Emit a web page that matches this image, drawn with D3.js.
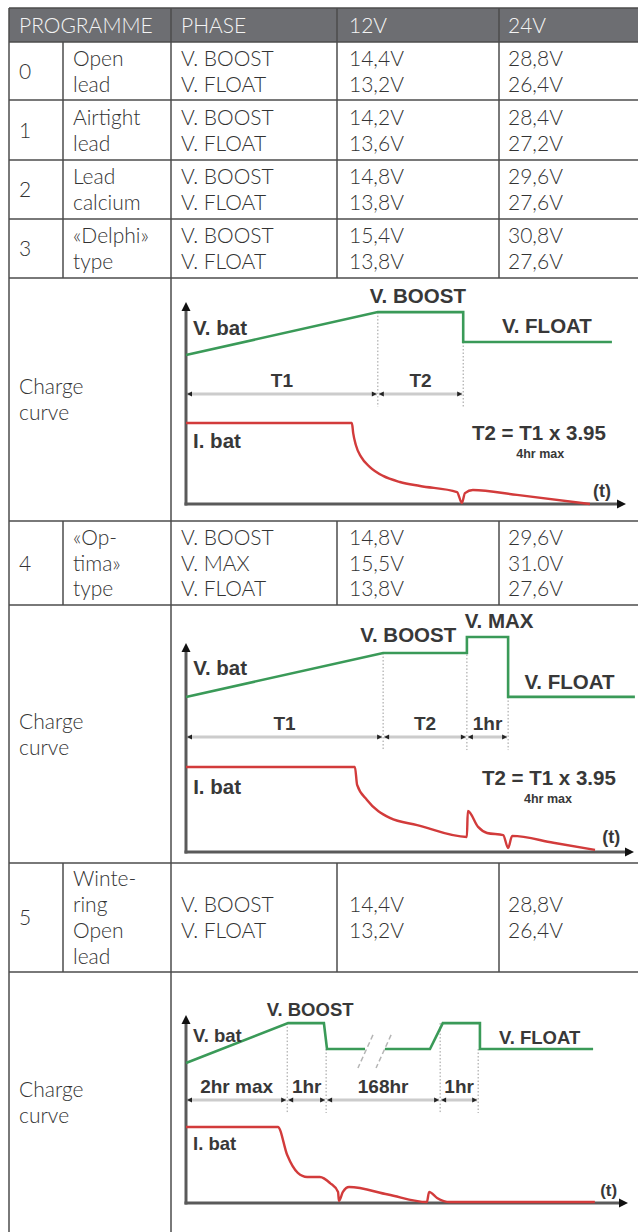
<!DOCTYPE html>
<meta charset="utf-8">
<style>
  body { margin: 0; background: #fff; }
  text.cell { font-family: Lato, "Noto Sans", sans-serif; font-weight: 300; font-size: 21px; fill: #333; }
  text.head { fill: #f4f4f4; }
  text.lab { font-family: "Liberation Sans", Arial, sans-serif; font-weight: bold; fill: #383838; }
</style>
<body>
<div id="chart"></div>
<script src="https://cdn.jsdelivr.net/npm/d3@7/dist/d3.min.js"></script>
<script>
// ---- table content ----
var headers = ["PROGRAMME", "PHASE", "12V", "24V"];
var progNums = ["0", "1", "2", "3", "4", "5"];
var progNames = [["Open", "lead"], ["Airtight", "lead"], ["Lead", "calcium"], ["«Delphi»", "type"],
  ["«Op-", "tima»", "type"], ["Winte-", "ring", "Open", "lead"]];
var phases = [["V. BOOST", "V. FLOAT"], ["V. BOOST", "V. FLOAT"], ["V. BOOST", "V. FLOAT"], ["V. BOOST", "V. FLOAT"],
  ["V. BOOST", "V. MAX", "V. FLOAT"], ["V. BOOST", "V. FLOAT"]];
var volts12 = [["14,4V", "13,2V"], ["14,2V", "13,6V"], ["14,8V", "13,8V"], ["15,4V", "13,8V"],
  ["14,8V", "15,5V", "13,8V"], ["14,4V", "13,2V"]];
var volts24 = [["28,8V", "26,4V"], ["28,4V", "27,2V"], ["29,6V", "27,6V"], ["30,8V", "27,6V"],
  ["29,6V", "31.0V", "27,6V"], ["28,8V", "26,4V"]];
var curveLabel = ["Charge", "curve"];

// ---- charge curves (time 0-100, level 0-100) ----
var c1Vbat = [[[0, 73.8], [43.6, 95], [63, 95], [63, 80.2], [96.8, 80.2]]];
var c1Ibat = [[0, 40.1], [37.7, 40.1], [38.0, 35.1], [38.6, 29.2], [39.8, 23.3], [41.8, 18.3], [44.8, 13.9],
  [48.6, 10.9], [53.2, 8.9], [61.6, 5.9], [62.7, 0.5], [63.4, 5.4], [65.2, 6.9], [75.2, 4.5], [91.8, 0]];
var c1Dims = [0, 43.6, 63];
var c1DimLabels = ["T1", "T2"];
var c1DotTops = [95, 80.2];

var c2Vbat = [[[0, 74.2], [44, 95.2], [62.7, 95.2], [62.7, 102.9], [71.9, 102.9], [71.9, 74.2], [100.2, 74.2]]];
var c2Ibat = [[0, 40.7], [37.7, 40.7], [38.2, 32.1], [40.4, 24.9], [45.5, 16.3], [51.6, 12.9], [62.7, 7.2],
  [62.9, 19.6], [65.2, 12.0], [67.2, 9.1], [70.8, 8.1], [71.9, 1.9], [72.8, 7.7], [82.0, 4.4], [91.3, 1.0]];
var c2Dims = [0, 44, 62.7, 71.9];
var c2DimLabels = ["T1", "T2", "1hr"];
var c2DotTops = [95.2, 102.9, 74.2];

var c3Vbat = [[[0, 74.5], [23.1, 95.7], [31.2, 95.7], [31.9, 81.9], [40.5, 81.9]],
  [[45.0, 81.9], [55.2, 81.9], [58.1, 95.7], [66.5, 95.7], [66.5, 81.9], [92.1, 81.9]]];
var c3Ibat = [[0, 40.4], [20.8, 40.4], [22.9, 25.5], [25.3, 16.0], [27.4, 13.8], [30.3, 13.8], [32.6, 10.6],
  [34.4, 5.9], [34.6, 1.1], [35.5, 5.9], [36.9, 8.5], [45.7, 4.5], [54.5, 0.5], [55.0, 5.9], [56.8, 2.7],
  [59.7, 0.5], [92.5, 0.5]];
var c3Dims = [0, 22.9, 31.7, 57.5, 66.1];
var c3DimLabels = ["2hr max", "1hr", "168hr", "1hr"];
var c3DotTops = [95.7, 81.9, 95.7, 81.9];
var c3Breaks = [[[42.3, 89.4], [38.9, 71.8]], [[46.4, 89.4], [43.0, 71.8]]];

// ---- layout ----
var W = 638, H = 1232;
var colX = [9, 63, 171, 337, 499, 638];
var rowY = [8, 42, 100, 160, 219, 278, 521, 605, 863, 972, 1232];
var rowKind = ["head", 0, 1, 2, 3, "c0", 4, "c1", 5, "c2"];
var lineGap = 25.8;
var textX = [19, 73, 181, 349, 508];
var border = "#4d4d4d";

var svg = d3.select("#chart").append("svg")
  .attr("width", W).attr("height", H);

// header background
svg.append("rect").attr("x", colX[0]).attr("y", rowY[0])
  .attr("width", W - colX[0]).attr("height", rowY[1] - rowY[0]).attr("fill", "#6d6e72");

function lines(g, arr, x, cy) {
  arr.forEach(function (s, k) {
    g.append("text").attr("class", "cell")
      .attr("x", x)
      .attr("y", cy + (k - (arr.length - 1) / 2) * lineGap + 7.6)
      .text(s);
  });
}

var grid = svg.append("g").attr("stroke", border).attr("stroke-width", 1.5).attr("fill", "none");
var txt = svg.append("g");

rowKind.forEach(function (kind, r) {
  var y0 = rowY[r], y1 = rowY[r + 1], cy = (y0 + y1) / 2;
  grid.append("line").attr("x1", colX[0]).attr("x2", W).attr("y1", y0).attr("y2", y0);
  var vcols;
  if (kind === "head") {
    vcols = [2, 3, 4];
    headers.forEach(function (h, k) {
      txt.append("text").attr("class", "cell head")
        .attr("x", [textX[0], textX[2], textX[3], textX[4]][k]).attr("y", cy + 7.6).text(h);
    });
  } else if (typeof kind === "number") {
    vcols = [1, 2, 3, 4];
    lines(txt, [progNums[kind]], textX[0], cy);
    lines(txt, progNames[kind], textX[1], cy);
    lines(txt, phases[kind], textX[2], cy);
    lines(txt, volts12[kind], textX[3], cy);
    lines(txt, volts24[kind], textX[4], cy);
  } else {
    vcols = [2];
    lines(txt, curveLabel, textX[0], cy);
  }
  vcols.forEach(function (c) {
    grid.append("line").attr("x1", colX[c]).attr("x2", colX[c]).attr("y1", y0).attr("y2", y1);
  });
});
grid.append("line").attr("x1", colX[0]).attr("x2", colX[0]).attr("y1", rowY[0]).attr("y2", H);

// ---- curve drawing ----
var charts = [
  { xr: [186, 626], yr: [504, 302], v: c1Vbat, i: c1Ibat, dims: c1Dims, dimLabels: c1DimLabels, dots: c1DotTops,
    dimV: 54.5, fs: 20.5,
    labels: [
      { t: "V. BOOST", x: 52.7, y: 99.5, a: "middle" },
      { t: "V. bat", x: 1.6, y: 83.7, a: "start" },
      { t: "V. FLOAT", x: 71.8, y: 84.7, a: "start" },
      { t: "I. bat", x: 1.6, y: 27.7, a: "start" },
      { t: "T2 = T1 x 3.95", x: 65, y: 31.7, a: "start" },
      { t: "4hr max", x: 80.5, y: 22.8, a: "middle", s: 12.5, f: "#555" },
      { t: "(t)", x: 92.5, y: 3.5, a: "start", s: 18 }
    ] },
  { xr: [186, 634], yr: [852, 643], v: c2Vbat, i: c2Ibat, dims: c2Dims, dimLabels: c2DimLabels, dots: c2DotTops,
    dimV: 55.0, fs: 20.5,
    labels: [
      { t: "V. BOOST", x: 49.6, y: 100.5, a: "middle" },
      { t: "V. MAX", x: 69.9, y: 107.2, a: "middle" },
      { t: "V. bat", x: 1.6, y: 84.7, a: "start" },
      { t: "V. FLOAT", x: 85.6, y: 78.0, a: "middle" },
      { t: "I. bat", x: 1.6, y: 27.8, a: "start" },
      { t: "T2 = T1 x 3.95", x: 81.0, y: 32.1, a: "middle" },
      { t: "4hr max", x: 80.8, y: 23.4, a: "middle", s: 12.5, f: "#555" },
      { t: "(t)", x: 92.9, y: 4.3, a: "start", s: 18 }
    ] },
  { xr: [186, 628], yr: [1203, 1015], v: c3Vbat, i: c3Ibat, dims: c3Dims, dimLabels: c3DimLabels, dots: c3DotTops,
    dimV: 54.8, fs: 18.5, breaks: c3Breaks,
    labels: [
      { t: "V. BOOST", x: 28.1, y: 99.5, a: "middle" },
      { t: "V. bat", x: 1.6, y: 85.6, a: "start" },
      { t: "V. FLOAT", x: 80.0, y: 84.6, a: "middle" },
      { t: "I. bat", x: 1.6, y: 28.2, a: "start" },
      { t: "(t)", x: 93.7, y: 3.7, a: "start", s: 17 }
    ] }
];

charts.forEach(function (c) {
  var x = d3.scaleLinear().domain([0, 100]).range(c.xr);
  var y = d3.scaleLinear().domain([0, 100]).range(c.yr);
  var line = d3.line().x(function (d) { return x(d[0]); }).y(function (d) { return y(d[1]); });
  var smooth = d3.line().curve(d3.curveMonotoneX)
    .x(function (d) { return x(d[0]); }).y(function (d) { return y(d[1]); });
  var g = svg.append("g");
  var dy = y(c.dimV);
  var dotBottom = dy + 13;

  // dotted guides
  c.dims.slice(1).forEach(function (t, k) {
    g.append("line").attr("x1", x(t)).attr("x2", x(t)).attr("y1", y(c.dots[k])).attr("y2", dotBottom)
      .attr("stroke", "#9a9a9a").attr("stroke-width", 1).attr("stroke-dasharray", "1.5,2");
  });

  // dimension line with arrowheads
  for (var k = 0; k < c.dims.length - 1; k++) {
    var a = x(c.dims[k]), b = x(c.dims[k + 1]);
    g.append("line").attr("x1", a + 1).attr("x2", b - 1).attr("y1", dy).attr("y2", dy)
      .attr("stroke", "#cccccc").attr("stroke-width", 3);
    g.append("path").attr("d", "M" + (a + 1) + "," + dy + "l5,-2.5v5z").attr("fill", "#222");
    g.append("path").attr("d", "M" + (b - 1) + "," + dy + "l-5,-2.5v5z").attr("fill", "#222");
    g.append("text").attr("class", "lab").attr("font-size", 19).attr("text-anchor", "middle")
      .attr("x", (a + b) / 2).attr("y", dy - 7).text(c.dimLabels[k]);
  }

  // break marks
  (c.breaks || []).forEach(function (br) {
    g.append("path").attr("d", line(br)).attr("stroke", "#b5b5b5").attr("stroke-width", 1.5)
      .attr("stroke-dasharray", "5,3").attr("fill", "none");
  });

  // axes
  var x0 = x(0), y0 = y(0);
  g.append("line").attr("x1", x0).attr("x2", x0).attr("y1", y0 + 1.5).attr("y2", y(100) + 6)
    .attr("stroke", "#5a5a5a").attr("stroke-width", 3);
  g.append("line").attr("x1", x0 - 1.5).attr("x2", x(100) - 6).attr("y1", y0).attr("y2", y0)
    .attr("stroke", "#5a5a5a").attr("stroke-width", 3);
  g.append("path").attr("d", "M" + x0 + "," + y(100) + "l4.5,9h-9z").attr("fill", "#111");
  g.append("path").attr("d", "M" + x(100) + "," + y0 + "l-9,-4.5v9z").attr("fill", "#111");

  // V. bat and I. bat
  c.v.forEach(function (seg) {
    g.append("path").attr("d", line(seg)).attr("fill", "none")
      .attr("stroke", "#3a9a58").attr("stroke-width", 2.6).attr("stroke-linejoin", "miter");
  });
  g.append("path").attr("d", smooth(c.i)).attr("fill", "none")
    .attr("stroke", "#d23b3b").attr("stroke-width", 2.4);

  // labels
  c.labels.forEach(function (l) {
    g.append("text").attr("class", "lab").attr("font-size", l.s || c.fs)
      .attr("fill", l.f || null)
      .attr("text-anchor", l.a).attr("x", x(l.x)).attr("y", y(l.y)).text(l.t);
  });
});
</script>
</body>
